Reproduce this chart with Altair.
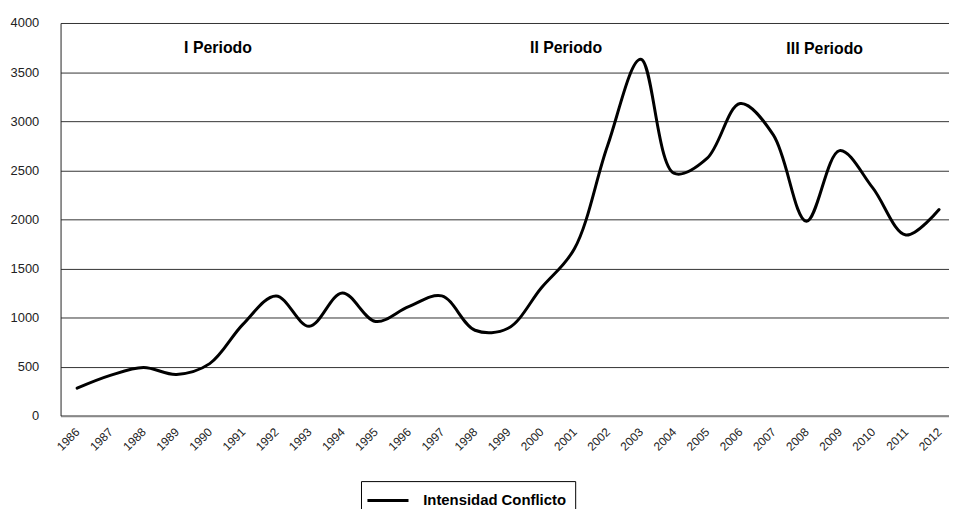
import altair as alt
import pandas as pd

years = list(range(1986, 2013))
values = [280, 410, 490, 420, 530, 930, 1220, 910, 1250, 960, 1110, 1220, 870, 890,
          1300, 1700, 2750, 3630, 2470, 2620, 3180, 2860, 1980, 2700, 2320, 1840, 2100]
series_name = "Intensidad Conflicto"

period_labels = ["I Periodo", "II Periodo", "III Periodo"]
period_x = [1990.25, 2000.75, 2008.55]
period_y = [3750, 3750, 3730]

y_ticks = [0, 500, 1000, 1500, 2000, 2500, 3000, 3500, 4000]

FONT = "Liberation Sans"

df = pd.DataFrame({"year": years, "value": values, "serie": [series_name] * len(years)})
ann = pd.DataFrame({"label": period_labels, "x": period_x, "y": period_y})

x_scale = alt.Scale(domain=[1985.5, 2012.3], nice=False, zero=False)
y_scale = alt.Scale(domain=[0, 4000], nice=False)

x_axis = alt.Axis(values=years, format="d", title=None, grid=False, ticks=False,
                  labelAngle=-45, labelAlign="right", labelBaseline="middle",
                  labelPadding=14, labelFontSize=12, labelColor="#222",
                  labelFont=FONT, domainColor="#888", domainWidth=2,
                  labelOverlap=False, labelFlush=False)
y_axis = alt.Axis(values=y_ticks, format="d", title=None, grid=True, gridColor="#333",
                  gridWidth=1, ticks=False, domainColor="#222", domainWidth=1,
                  labelPadding=22, labelFontSize=13, labelColor="#222",
                  labelFont=FONT, labelOverlap=False)

line = alt.Chart(df).mark_line(
    interpolate="catmull-rom", strokeWidth=3, strokeCap="round", strokeJoin="round"
).encode(
    x=alt.X("year:Q", scale=x_scale, axis=x_axis),
    y=alt.Y("value:Q", scale=y_scale, axis=y_axis),
    color=alt.Color("serie:N", scale=alt.Scale(domain=[series_name], range=["#000000"]),
                    legend=alt.Legend(title=None, orient="none", legendX=303, legendY=462,
                                      strokeColor="#000", padding=9, symbolOffset=7.7,
                                      symbolType="M-2.3,0H2.3", symbolSize=324,
                                      symbolStrokeWidth=3, symbolStrokeColor="#000",
                                      labelOffset=25, labelFontSize=15, labelFontWeight="bold",
                                      labelFont=FONT, labelColor="#000", labelLimit=400)),
)

text = alt.Chart(ann).mark_text(
    font=FONT, fontSize=16, fontWeight="bold", color="#000"
).encode(
    x=alt.X("x:Q", scale=x_scale, axis=x_axis),
    y=alt.Y("y:Q", scale=y_scale, axis=y_axis),
    text="label:N",
)

chart = alt.layer(line, text).properties(
    width=896, height=396,
    autosize=alt.AutoSizeParams(type="none"),
    padding={"left": 53, "top": 13, "right": 0, "bottom": 92},
).configure(background="white").configure_view(stroke=None)

chart.save("out.html", embed_options={"renderer": "svg", "actions": False})
